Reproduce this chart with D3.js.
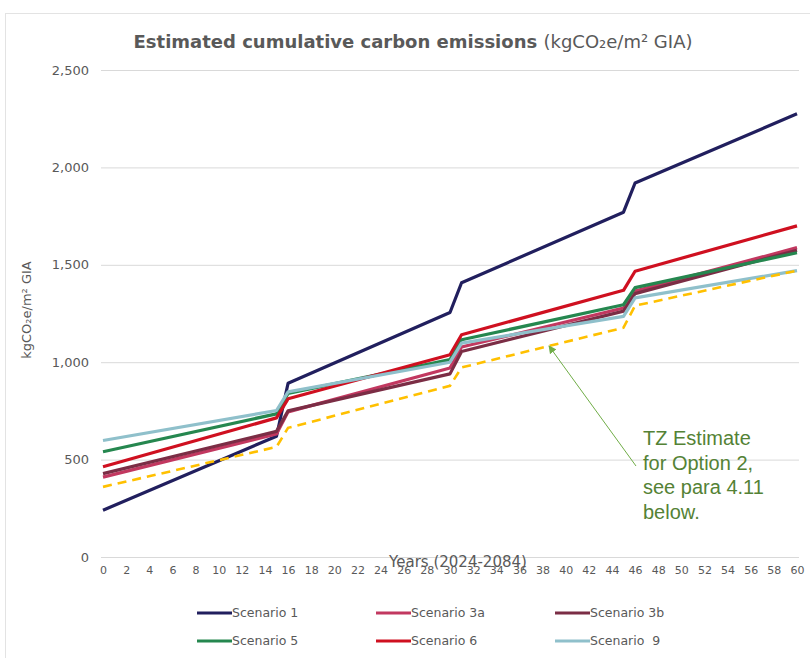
<!DOCTYPE html>
<html>
<head>
<meta charset="utf-8">
<script src="https://cdn.jsdelivr.net/npm/d3@7"></script>
<style>
  html,body{margin:0;padding:0;background:#fff;}
  svg{display:block;font-family:"DejaVu Sans","Noto Sans",sans-serif;}
</style>
</head>
<body>
<svg id="chart" width="810" height="658"></svg>
<script>
// ---- data (straight segments between break years) ----
const years   = [0, 15, 16, 30, 31, 45, 46, 60];
const scen1   = [240, 620, 892, 1255, 1408, 1770, 1920, 2275];
const scen3a  = [410, 632, 745, 970, 1078, 1278, 1365, 1588];
const scen3b  = [428, 645, 750, 940, 1055, 1262, 1352, 1575];
const scen5   = [540, 735, 840, 1013, 1115, 1295, 1383, 1562];
const scen6   = [463, 714, 812, 1038, 1141, 1369, 1467, 1700];
const scen9   = [598, 752, 848, 1000, 1098, 1235, 1330, 1470];
const tzEst   = [360, 565, 663, 879, 973, 1177, 1290, 1470];

const seriesNames = ['Scenario 1','Scenario 3a','Scenario 3b','Scenario 5','Scenario 6','Scenario  9'];
const yTicks = [0, 500, 1000, 1500, 2000, 2500];
const xTicks = d3.range(0, 61, 2);
const noteLines = ['TZ Estimate', 'for Option 2,', 'see para 4.11', 'below.'];

const series = [
  {name: seriesNames[0], vals: scen1,  color: '#211f5e'},
  {name: seriesNames[1], vals: scen3a, color: '#c23860'},
  {name: seriesNames[2], vals: scen3b, color: '#7b2d45'},
  {name: seriesNames[3], vals: scen5,  color: '#25874f'},
  {name: seriesNames[4], vals: scen6,  color: '#cf1020'},
  {name: seriesNames[5], vals: scen9,  color: '#8fc0cb'}
];

const svg = d3.select('#chart');
const x = d3.scaleLinear().domain([0, 60]).range([103, 797]);
const y = d3.scaleLinear().domain([0, 2500]).range([557, 70]);
const GREY = '#595959';

// chart frame
svg.append('rect').attr('x', 5.5).attr('y', 13.5).attr('width', 820).attr('height', 660)
  .attr('fill', 'none').attr('stroke', '#e3e3e3');

// title
const title = svg.append('text').attr('x', 413).attr('y', 48).attr('text-anchor', 'middle')
  .attr('fill', GREY).style('font-size', '18px');
title.append('tspan').attr('font-weight', 'bold').text('Estimated cumulative carbon emissions ');
title.append('tspan').text('(kgCO₂e/m² GIA)');

// gridlines + y axis
const yAxis = d3.axisLeft(y).tickValues(yTicks).tickSize(-(x.range()[1] - x.range()[0] + 4))
  .tickFormat(d3.format(','));
svg.append('g').attr('transform', `translate(${x(0) - 2},0)`).call(yAxis)
  .call(g => g.select('.domain').remove())
  .call(g => g.selectAll('line').attr('stroke', '#d9d9d9'))
  .call(g => g.selectAll('text').attr('x', -12).attr('fill', GREY)
    .style('font-family', '"DejaVu Sans",sans-serif').style('font-size', '13px'));

// x axis labels
const xAxis = d3.axisBottom(x).tickValues(xTicks).tickSize(0).tickPadding(9);
svg.append('g').attr('transform', `translate(0,${y(0)})`).call(xAxis)
  .call(g => g.select('.domain').remove())
  .call(g => g.selectAll('text').attr('fill', GREY)
    .style('font-family', '"DejaVu Sans",sans-serif').style('font-size', '11px'));

// axis titles
svg.append('text').attr('transform', 'translate(31,310) rotate(-90)').attr('text-anchor', 'middle')
  .attr('fill', GREY).style('font-size', '13px').text('kgCO₂e/m² GIA');
svg.append('text').attr('x', 458).attr('y', 567).attr('text-anchor', 'middle')
  .attr('fill', GREY).style('font-size', '15px').text('Years (2024-2084)');

// lines
const line = d3.line().x((d, i) => x(years[i])).y(d => y(d));
svg.append('g').selectAll('path').data(series).join('path')
  .attr('d', s => line(s.vals)).attr('fill', 'none')
  .attr('stroke', s => s.color).attr('stroke-width', 3.2).attr('stroke-linejoin', 'round');
svg.append('path').attr('d', line(tzEst)).attr('fill', 'none')
  .attr('stroke', '#ffc000').attr('stroke-width', 2.6).attr('stroke-dasharray', '9,6');

// annotation arrow
svg.append('defs').append('marker').attr('id', 'ah').attr('viewBox', '0 0 10 10')
  .attr('refX', 9).attr('refY', 5).attr('markerWidth', 8).attr('markerHeight', 8)
  .attr('markerUnits', 'userSpaceOnUse').attr('orient', 'auto')
  .append('path').attr('d', 'M0,0L10,5L0,10z').attr('fill', '#70ad47');
svg.append('line').attr('x1', 636).attr('y1', 466).attr('x2', 549).attr('y2', 346)
  .attr('stroke', '#70ad47').attr('stroke-width', 1).attr('marker-end', 'url(#ah)');
svg.append('text').attr('fill', '#548235')
  .style('font-family', '"Liberation Sans",Arial,sans-serif').style('font-size', '20px')
  .selectAll('tspan').data(noteLines).join('tspan')
  .attr('x', 643).attr('y', (d, i) => 445 + i * 24.5).text(d => d);

// legend
const leg = svg.append('g').selectAll('g').data(series).join('g')
  .attr('transform', (d, i) => `translate(${[197, 376, 555][i % 3]},${i < 3 ? 613 : 641})`);
leg.append('line').attr('x1', 0).attr('x2', 35).attr('stroke', d => d.color).attr('stroke-width', 3.2);
leg.append('text').attr('x', 35).attr('dy', '0.35em').attr('fill', GREY)
  .style('font-size', '12.5px').style('white-space', 'pre').text(d => d.name);
</script>
</body>
</html>
